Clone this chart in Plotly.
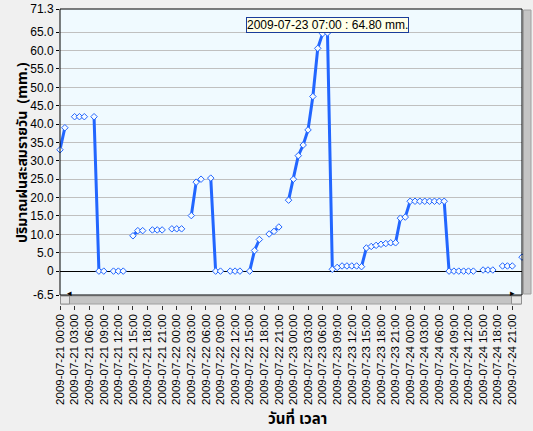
import pandas as pd
import plotly.graph_objects as go

# ---- data ----
start_time = "2009-07-21 00:00"
n_hours = 96
rain_mm = [
    33.0, 39.0, None, 42.0, 42.0, 42.0, None, 42.0,      # h0-7
    0.0, 0.0, None, 0.0, 0.0, 0.0, None, 9.6,            # h8-15
    11.0, 11.0, None, 11.2, 11.2, 11.2, None, 11.5,      # h16-23
    11.5, 11.5, None, 15.1, 24.2, 25.0, None, 25.3,      # h24-31
    0.0, 0.0, None, 0.0, 0.0, 0.0, None, 0.0,            # h32-39
    5.6, 8.6, None, 10.1, 10.8, 12.0, None, 19.3,        # h40-47
    25.0, 31.4, 34.3, 38.4, 47.5, 60.6, 64.6, 64.8,      # h48-55
    0.5, 1.0, 1.4, 1.4, 1.4, 1.4, 1.2, 6.3,              # h56-63
    6.7, 7.0, 7.3, 7.5, 7.7, 7.7, 14.4, 14.7,            # h64-71
    19.0, 19.0, 19.0, 19.0, 19.0, 19.0, 19.0, 19.0,      # h72-79
    0.0, 0.0, 0.0, 0.0, 0.0, 0.0, None, 0.3,             # h80-87
    0.3, 0.3, None, 1.4, 1.4, 1.4, None, 3.8,            # h88-95
]
times = pd.date_range(start_time, periods=n_hours, freq="h")
y_tickvals = [-6.5, 0, 5, 10, 15, 20, 25, 30, 35, 40, 45, 50, 55, 60, 65, 71.3]
y_ticktext = ["-6.5", "0", "5.0", "10.0", "15.0", "20.0", "25.0", "30.0", "35.0",
              "40.0", "45.0", "50.0", "55.0", "60.0", "65.0", "71.3"]
y_title = "ปริมาณฝนสะสมรายวัน  (mm.)"
x_title = "วันที่ เวลา"
tip_index = 55
tip_text = f"{times[tip_index]:%Y-%m-%d %H:%M} : {rain_mm[tip_index]:.2f} mm."

# ---- layout geometry (pixels) ----
W, H = 533, 431
ML, MR, MT, MB = 60, 11, 9, 120
PW, PH = W - ML - MR, H - MT - MB
def px(x):
    return (x - ML) / PW
def py(y):
    return (H - MB - y) / PH

plot_bottom = 295
axis_y = 304.5

BLUE = "#2266FF"
FONT = "Liberation Sans, Arial, sans-serif"
THAI = "Tahoma, 'Noto Sans Thai', 'Noto Sans', sans-serif"

fig = go.Figure()
fig.add_trace(go.Scatter(
    x=times.strftime("%Y-%m-%d %H:%M:%S").tolist(), y=rain_mm, mode="lines+markers",
    line=dict(color=BLUE, width=3),
    marker=dict(symbol="diamond", size=5, color="#F6FBFF",
                line=dict(color=BLUE, width=1)),
    connectgaps=False, cliponaxis=False, hoverinfo="skip",
))

shapes = []
# horizontal scrollbar
shapes.append(dict(type="rect", xref="paper", yref="paper",
                   x0=px(60.5), x1=px(521.5), y0=py(304), y1=py(296),
                   fillcolor="#C4C4C4", line=dict(color="#A0A0A0", width=1)))
for a, b in [(60.5, 69.5), (511.5, 521.5)]:
    shapes.append(dict(type="rect", xref="paper", yref="paper",
                       x0=px(a), x1=px(b), y0=py(304), y1=py(296),
                       fillcolor="#E4E4E4", line=dict(color="#909090", width=1)))
# vertical scrollbar
shapes.append(dict(type="rect", xref="paper", yref="paper",
                   x0=px(523.5), x1=px(531), y0=py(294), y1=py(10),
                   fillcolor="#C4C4C4", line=dict(color="#A0A0A0", width=1)))
# plot border
shapes.append(dict(type="rect", xref="paper", yref="paper",
                   x0=0, x1=1, y0=py(plot_bottom), y1=1,
                   line=dict(color="black", width=1), layer="above"))

annotations = [
    dict(text="◂", xref="paper", yref="paper", x=px(65), y=py(300),
         showarrow=False, font=dict(size=9, color="black")),
    dict(text="▸", xref="paper", yref="paper", x=px(516.5), y=py(300),
         showarrow=False, font=dict(size=9, color="black")),
    dict(text=tip_text, xref="paper", yref="paper", x=px(327), y=py(25),
         xanchor="center", yanchor="middle", showarrow=False,
         bgcolor="#FFFFE8", bordercolor="#1A3C9A", borderwidth=1, borderpad=0,
         font=dict(family=FONT, size=12, color="black")),
    dict(text=f"<b>{y_title}</b>", xref="paper", yref="paper",
         x=px(22), y=py(153), textangle=-90, showarrow=False,
         xanchor="center", yanchor="middle",
         font=dict(family=THAI, size=14, color="black")),
    dict(text=f"<b>{x_title}</b>", xref="paper", yref="paper",
         x=px(297), y=py(419), showarrow=False,
         xanchor="center", yanchor="middle",
         font=dict(family=THAI, size=15, color="black")),
]

fig.update_layout(
    width=W, height=H,
    margin=dict(l=ML, r=MR, t=MT, b=MB, pad=0, autoexpand=False),
    paper_bgcolor="#F0F0F0", plot_bgcolor="#F0FAFF",
    showlegend=False,
    font=dict(family=FONT, size=12, color="black"),
    shapes=shapes, annotations=annotations,
    xaxis=dict(
        type="date",
        range=["2009-07-21 00:00:00", "2009-07-24 23:00:00"],
        anchor="free", position=py(axis_y), automargin=False,
        tick0="2009-07-21 00:00:00", dtick=3 * 3600 * 1000,
        tickformat="%Y-%m-%d %H:%M", tickangle=-90,
        ticks="outside", ticklen=4, tickcolor="#333333",
        showgrid=False, showline=False, zeroline=False,
        tickfont=dict(family=FONT, size=11.5, color="black"),
        fixedrange=True,
    ),
    yaxis=dict(
        range=[-6.5, 71.3], domain=[py(plot_bottom), 1], automargin=False,
        tickvals=y_tickvals, ticktext=y_ticktext,
        ticks="outside", ticklen=3, tickcolor="black",
        showgrid=True, gridcolor="#C0C0C0", gridwidth=1,
        zeroline=True, zerolinecolor="black", zerolinewidth=1,
        showline=False,
        tickfont=dict(family=FONT, size=12, color="black"),
        fixedrange=True,
    ),
)

fig.write_html(
    "out.html",
    config={"displayModeBar": False},
    post_script="document.body.style.margin='0';document.body.style.overflow='hidden';",
)
